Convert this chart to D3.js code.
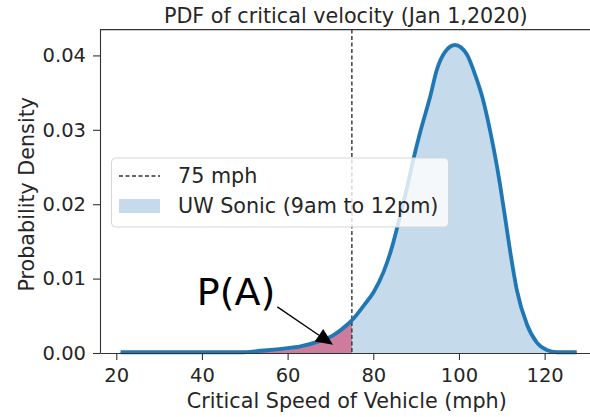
<!DOCTYPE html>
<html>
<head>
<meta charset="utf-8">
<script src="https://cdn.jsdelivr.net/npm/d3@7"></script>
<style>
  html, body { margin: 0; padding: 0; background: #fff; }
  svg { display: block; overflow: hidden; }
  text { font-family: "DejaVu Sans", sans-serif; fill: #262626; }
</style>
</head>
<body>
<svg id="chart" width="590" height="417"></svg>
<script>
// Kernel density estimate of critical speed, sampled along the curve
const speeds = [21, 30, 40, 49, 53.7, 59.1, 63, 66.9, 70.7, 73.9, 75, 77.8, 80.1, 82.4, 84.4, 85.5, 86.7, 87.7,
  89.3, 91.0, 93.3, 94.8, 96.8, 99.1, 101.9, 103.4, 105.4, 107.3, 108.9, 109.6, 110.8, 112.0, 113.5, 115.9,
  118.2, 120.5, 122.8, 127.5];
const densities = [0.0001, 0.0001, 0.0001, 0.0001, 0.0003, 0.0006, 0.0009, 0.0015, 0.0024, 0.0038, 0.0044, 0.0064,
  0.0082, 0.0109, 0.0143, 0.0167, 0.0195, 0.0218, 0.0259, 0.0298, 0.0345, 0.0380, 0.0405, 0.0414, 0.0401, 0.0380,
  0.0345, 0.0298, 0.0250, 0.0226, 0.0181, 0.0135, 0.0085, 0.0038, 0.0014, 0.0004, 0.0001, 0.0001];

const threshold = 75;                       // speed limit marker (mph)
const xTicks = [20, 40, 60, 80, 100, 120];
const yTicks = [0, 0.01, 0.02, 0.03, 0.04];
const xDomain = [16.2, 133.3];
const yDomain = [0, 0.04347];

const titleText = "PDF of critical velocity (Jan 1,2020)";
const xLabel = "Critical Speed of Vehicle (mph)";
const yLabel = "Probability Density";
const legendLabels = ["75 mph", "UW Sonic (9am to 12pm)"];
const annotationText = "P(A)";
const annotationFrom = [57.6, 0.0062];      // text anchor in data units
const annotationTo = [70.6, 0.0011];        // arrow tip in data units

const margin = { left: 100, top: 29.6, right: 601.6, bottom: 353 };
const svg = d3.select("#chart");

const x = d3.scaleLinear().domain(xDomain).range([margin.left, margin.right]);
const y = d3.scaleLinear().domain(yDomain).range([margin.bottom, margin.top]);

const pts = speeds.map((s, i) => ({ s, d: densities[i] }));
const tail = pts.filter(p => p.s <= threshold);

const area = d3.area().x(p => x(p.s)).y0(y(0)).y1(p => y(p.d)).curve(d3.curveMonotoneX);
const line = d3.line().x(p => x(p.s)).y(p => y(p.d)).curve(d3.curveMonotoneX);

const blue = "#1f77b4";
const fillBlue = "#c5daeb";
const pink = "#cd7c9e";
const labelSize = 20.7, tickSize = 19.5;

// shaded density, tail probability, threshold line, curve
svg.append("path").attr("d", area(pts)).attr("fill", fillBlue);
svg.append("path").attr("d", area(tail)).attr("fill", pink);
svg.append("line")
  .attr("x1", x(threshold)).attr("x2", x(threshold))
  .attr("y1", margin.top).attr("y2", margin.bottom)
  .attr("stroke", "#333").attr("stroke-width", 1.4).attr("stroke-dasharray", "4,2.5");
svg.append("path").attr("d", line(pts)).attr("fill", "none")
  .attr("stroke", blue).attr("stroke-width", 3.8).attr("stroke-linejoin", "round");

// spines
const spine = "#333";
svg.append("line").attr("x1", margin.left).attr("x2", margin.right).attr("y1", margin.top).attr("y2", margin.top)
  .attr("stroke", spine).attr("stroke-width", 1.1);

// axes
const xAxis = svg.append("g").attr("transform", `translate(0,${margin.bottom})`)
  .call(d3.axisBottom(x).tickValues(xTicks).tickSize(7).tickPadding(8).tickSizeOuter(0));
const yAxis = svg.append("g").attr("transform", `translate(${margin.left},0)`)
  .call(d3.axisLeft(y).tickValues(yTicks).tickFormat(d3.format(".2f")).tickSize(7).tickPadding(7).tickSizeOuter(0));
[xAxis, yAxis].forEach(g => {
  g.select(".domain").attr("stroke", spine).attr("stroke-width", 1.1);
  g.selectAll(".tick line").attr("stroke", spine).attr("stroke-width", 1.1);
  g.selectAll(".tick text").attr("font-size", tickSize).attr("font-family", "DejaVu Sans").attr("fill", "#262626");
});

// titles
svg.append("text").attr("x", (margin.left + margin.right) / 2 - 5).attr("y", 23)
  .attr("text-anchor", "middle").attr("font-size", labelSize).text(titleText);
svg.append("text").attr("x", (margin.left + margin.right) / 2 - 4).attr("y", 408)
  .attr("text-anchor", "middle").attr("font-size", labelSize).text(xLabel);
svg.append("text").attr("transform", `translate(34,${(margin.top + margin.bottom) / 2 + 3}) rotate(-90)`)
  .attr("text-anchor", "middle").attr("font-size", labelSize).text(yLabel);

// legend
const lg = svg.append("g");
lg.append("rect").attr("x", 111.5).attr("y", 158).attr("width", 337).attr("height", 69).attr("rx", 4)
  .attr("fill", "#fff").attr("fill-opacity", 0.8).attr("stroke", "#d6d6d6").attr("stroke-width", 1);
lg.append("line").attr("x1", 119).attr("x2", 160).attr("y1", 176).attr("y2", 176)
  .attr("stroke", "#333").attr("stroke-width", 1.4).attr("stroke-dasharray", "4,2.5");
lg.append("text").attr("x", 178).attr("y", 183).attr("font-size", labelSize).text(legendLabels[0]);
lg.append("rect").attr("x", 119).attr("y", 199).attr("width", 41).attr("height", 14).attr("fill", fillBlue);
lg.append("text").attr("x", 178).attr("y", 213).attr("font-size", labelSize).text(legendLabels[1]);

// annotation with arrow
const [ax0, ay0] = [x(annotationFrom[0]), y(annotationFrom[1])];
const [ax1, ay1] = [x(annotationTo[0]), y(annotationTo[1])];
const ang = Math.atan2(ay1 - ay0, ax1 - ax0);
const headLen = 17, headHalf = 7.5;
const bx = ax1 - headLen * Math.cos(ang), by = ay1 - headLen * Math.sin(ang);
svg.append("line").attr("x1", ax0).attr("y1", ay0).attr("x2", bx).attr("y2", by)
  .attr("stroke", "#000").attr("stroke-width", 1.3);
svg.append("path")
  .attr("d", `M${ax1},${ay1}L${bx - headHalf * Math.sin(ang)},${by + headHalf * Math.cos(ang)}L${bx + headHalf * Math.sin(ang)},${by - headHalf * Math.cos(ang)}Z`)
  .attr("fill", "#000");
svg.append("text").attr("x", ax0 - 2).attr("y", ay0 - 2).attr("text-anchor", "end")
  .attr("font-family", "Open Sans, sans-serif").attr("font-size", 38).style("fill", "#000").text(annotationText);
</script>
</body>
</html>
